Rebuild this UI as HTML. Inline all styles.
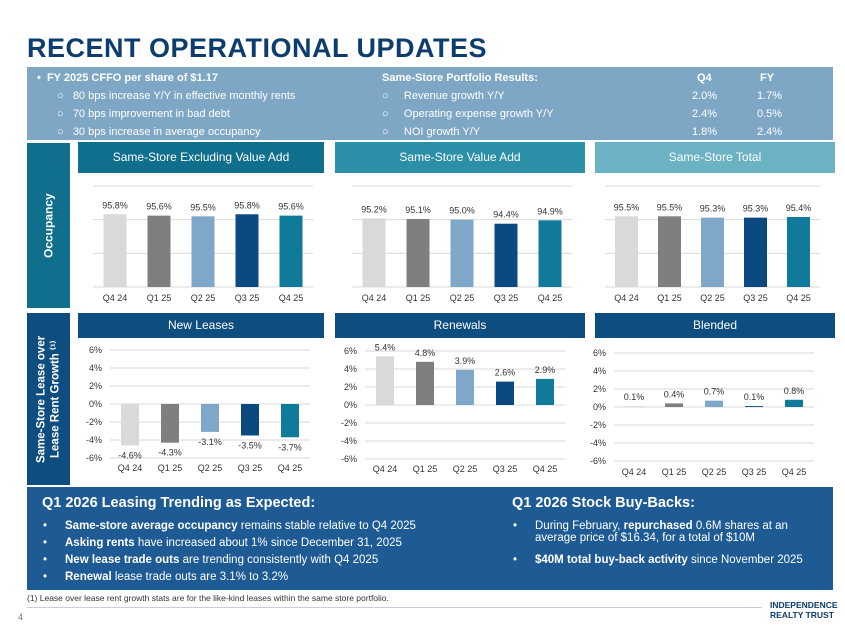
<!DOCTYPE html>
<html><head><meta charset="utf-8">
<style>
body{margin:0;width:845px;height:635px;background:#fff;font-family:"Liberation Sans",sans-serif;position:relative;overflow:hidden}
.a{position:absolute}
.title{left:27px;top:33px;font-size:27px;font-weight:bold;color:#0d3c6e;letter-spacing:0.5px}
.band{left:27px;top:67px;width:806px;height:73px;background:#7ea7c6;color:#fff;font-size:11px}
.hdr{color:#fff;font-size:12px;text-align:center;line-height:31px}
.side{color:#fff;font-weight:bold;font-size:12px;writing-mode:vertical-rl;transform:rotate(180deg);text-align:center;display:flex;align-items:center;justify-content:center}
.bottom{left:27px;top:487px;width:806px;height:103px;background:#1e5b95;color:#fff;font-size:11.5px}
.bottom ul{margin:0;padding:0;list-style:none}
.bottom li{position:relative;padding-left:28px;height:17px}
.bottom li:before{content:"•";position:absolute;left:6px}
</style></head><body>
<div class="a title">RECENT OPERATIONAL UPDATES</div>
<div class="a band">
 <div class="a" style="left:10px;top:5px;font-weight:bold">•&nbsp;&nbsp;FY 2025 CFFO per share of $1.17</div>
 <div class="a" style="left:30px;top:23px">○&nbsp;&nbsp;&nbsp;80 bps increase Y/Y in effective monthly rents</div>
 <div class="a" style="left:30px;top:41px">○&nbsp;&nbsp;&nbsp;70 bps improvement in bad debt</div>
 <div class="a" style="left:30px;top:59px">○&nbsp;&nbsp;&nbsp;30 bps increase in average occupancy</div>
 <div class="a" style="left:355px;top:5px;font-weight:bold">Same-Store Portfolio Results:</div>
 <div class="a" style="left:355px;top:23px">○&nbsp;&nbsp;&nbsp;&nbsp;&nbsp;Revenue growth Y/Y</div>
 <div class="a" style="left:355px;top:41px">○&nbsp;&nbsp;&nbsp;&nbsp;&nbsp;Operating expense growth Y/Y</div>
 <div class="a" style="left:355px;top:59px">○&nbsp;&nbsp;&nbsp;&nbsp;&nbsp;NOI growth Y/Y</div>
 <div class="a" style="left:670px;top:5px;font-weight:bold">Q4</div>
 <div class="a" style="left:733px;top:5px;font-weight:bold">FY</div>
 <div class="a" style="left:665px;top:23px">2.0%</div><div class="a" style="left:730px;top:23px">1.7%</div>
 <div class="a" style="left:665px;top:41px">2.4%</div><div class="a" style="left:730px;top:41px">0.5%</div>
 <div class="a" style="left:665px;top:59px">1.8%</div><div class="a" style="left:730px;top:59px">2.4%</div>
</div>
<div class="a side" style="left:27px;top:143px;width:43px;height:165px;background:#0f6f8c">Occupancy</div>
<div class="a side" style="left:27px;top:313px;width:43px;height:172px;background:#0e4d80;font-size:11.5px;line-height:14px">Same-Store Lease over<br>Lease Rent Growth ⁽¹⁾</div>
<div class="a hdr" style="left:78px;top:142px;width:246px;height:31px;background:#0f6f8c">Same-Store Excluding Value Add</div>
<div class="a hdr" style="left:335px;top:142px;width:250px;height:31px;background:#2b8fa7">Same-Store Value Add</div>
<div class="a hdr" style="left:595px;top:142px;width:240px;height:31px;background:#6bb3c4">Same-Store Total</div>
<div class="a hdr" style="left:78px;top:313px;width:246px;height:25px;line-height:25px;background:#0e4d80">New Leases</div>
<div class="a hdr" style="left:335px;top:313px;width:250px;height:25px;line-height:25px;background:#0e4d80">Renewals</div>
<div class="a hdr" style="left:595px;top:313px;width:240px;height:25px;line-height:25px;background:#0e4d80">Blended</div>
<svg class="a" id="charts" style="left:0;top:0" width="845" height="635"></svg>
<div class="a bottom">
 <div class="a" style="left:15px;top:8px;font-size:14.5px;font-weight:bold">Q1 2026 Leasing Trending as Expected:</div>
 <ul class="a" style="left:10px;top:33px;width:470px">
  <li><b>Same-store average occupancy</b> remains stable relative to Q4 2025</li>
  <li><b>Asking rents</b> have increased about 1% since December 31, 2025</li>
  <li><b>New lease trade outs</b> are trending consistently with Q4 2025</li>
  <li><b>Renewal</b> lease trade outs are 3.1% to 3.2%</li>
 </ul>
 <div class="a" style="left:485px;top:8px;font-size:14.5px;font-weight:bold">Q1 2026 Stock Buy-Backs:</div>
 <ul class="a" style="left:480px;top:33px;width:320px">
  <li>During February, <b>repurchased</b> 0.6M shares at an<br>average price of $16.34, for a total of $10M</li>
  <li style="margin-top:17px"><b>$40M total buy-back activity</b> since November 2025</li>
 </ul>
</div>
<div class="a" style="left:27px;top:593px;font-size:8.5px;color:#333">(1) Lease over lease rent growth stats are for the like-kind leases within the same store portfolio.</div>
<div class="a" style="left:27px;top:607px;width:735px;height:1px;background:#ccd"></div>
<div class="a" style="left:18px;top:612px;font-size:9px;color:#777">4</div>
<div class="a" style="left:770px;top:600px;font-size:8.5px;font-weight:bold;color:#0d3c6e;line-height:10px">INDEPENDENCE<br>REALTY TRUST</div>
<script>
const categories=["Q4 24","Q1 25","Q2 25","Q3 25","Q4 25"];
const occExcl=[95.8,95.6,95.5,95.8,95.6];
const occVA=[95.2,95.1,95.0,94.4,94.9];
const occTotal=[95.5,95.5,95.3,95.3,95.4];
const newLeases=[-4.6,-4.3,-3.1,-3.5,-3.7];
const renewals=[5.4,4.8,3.9,2.6,2.9];
const blended=[0.1,0.4,0.7,0.1,0.8];
const growthTicks=[6,4,2,0,-2,-4,-6];
const occTicks=[85,90,95,100];
const colors=["#d9d9d9","#7f7f7f","#7fa7c9","#0b4a80","#0f7a99"];
const svg=document.getElementById('charts');
const NS="http://www.w3.org/2000/svg";
function mk(t,a){const e=document.createElementNS(NS,t);for(const k in a)e.setAttribute(k,a[k]);svg.appendChild(e);return e;}
function txt(x,y,s,anchor,size){const e=mk('text',{x:x,y:y,'text-anchor':anchor||'middle','font-size':size||9,fill:'#333','font-family':'Liberation Sans, sans-serif'});e.textContent=s;return e;}
function chart(cfg){
  const yS=v=>cfg.y1+(cfg.max-v)/(cfg.max-cfg.min)*(cfg.y0-cfg.y1);
  cfg.ticks.forEach(t=>{
    const g=mk('line',{x1:cfg.gx0,x2:cfg.gx1,y1:yS(t),y2:yS(t),stroke:'#d9d9d9','stroke-width':1});
    
    
    if(cfg.showTicks){const l=txt(cfg.gx0-8,yS(t)+3,t+'%','end');
      
      }
  });
  const step=(cfg.gx1-cfg.gx0)/categories.length;
  cfg.data.forEach((v,i)=>{
    const cx=cfg.gx0+step*(i+0.5);
    const base=yS(cfg.base), top=yS(v);
    const r=mk('rect',{x:cx-cfg.bw/2,y:Math.min(base,top),width:cfg.bw,height:Math.abs(base-top),fill:colors[i]});
    
    
    const ly=v>=cfg.base?top-6:top+13;
    const l=txt(cx,ly,v.toFixed(1)+'%');
    
    
    const c=txt(cx,cfg.xl,categories[i]);
    
    
  });
}
const occ={min:85,max:100,y1:186,y0:287,ticks:occTicks,base:85,bw:23,xl:301,showTicks:false};
chart(Object.assign({},occ,{gx0:93,gx1:313,data:occExcl}));
chart(Object.assign({},occ,{gx0:352,gx1:572,data:occVA}));
chart(Object.assign({},occ,{gx0:605,gx1:820,data:occTotal}));
const gr={min:-6,max:6,ticks:growthTicks,base:0,bw:18,showTicks:true};
chart(Object.assign({},gr,{gx0:110,gx1:310,y1:350,y0:458,xl:471,data:newLeases}));
chart(Object.assign({},gr,{gx0:365,gx1:565,y1:351,y0:459,xl:472,data:renewals}));
chart(Object.assign({},gr,{gx0:614,gx1:814,y1:353,y0:461,xl:475,data:blended}));
</script>
</body></html>
